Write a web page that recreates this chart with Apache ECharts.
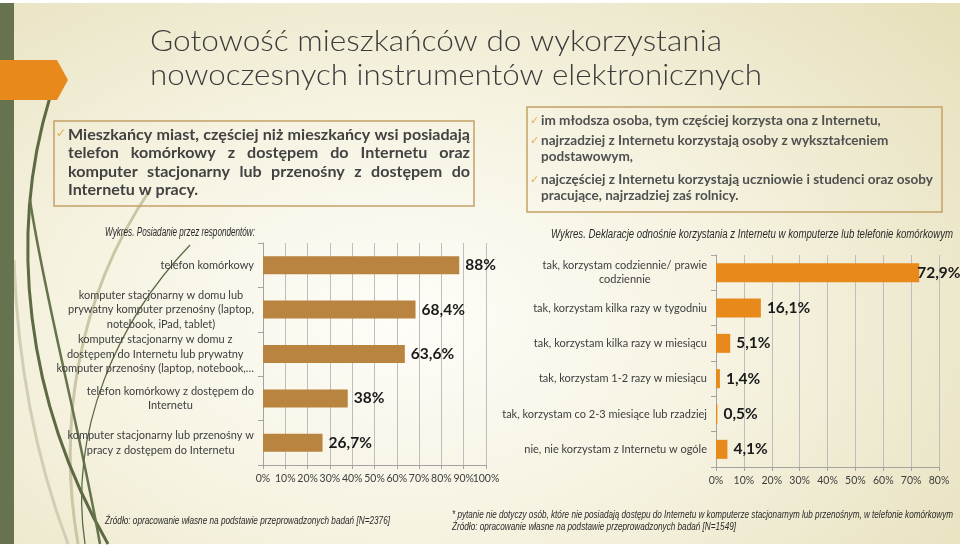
<!DOCTYPE html>
<html>
<head>
<meta charset="utf-8">
<script src="https://cdn.jsdelivr.net/npm/echarts@6/dist/echarts.min.js"></script>
<style>
html,body{margin:0;padding:0;}
#chart{width:960px;height:548px;background:radial-gradient(ellipse 75% 85% at 42% 58%, #fefdf8 0%, #f6f3e2 45%, #e6e0bb 100%);}
</style>
</head>
<body>
<div id="chart"></div>
<script>
// ---- data ----
var leftCategories = [
  "telefon komórkowy",
  "komputer stacjonarny w domu lub\nprywatny komputer przenośny (laptop,\nnotebook, iPad, tablet)",
  "komputer stacjonarny w domu z\ndostępem do Internetu lub prywatny\nkomputer przenośny (laptop, notebook,…",
  "telefon komórkowy z dostępem do\nInternetu",
  "komputer stacjonarny lub przenośny w\npracy z dostępem do Internetu"
];
var leftValues = [88, 68.4, 63.6, 38, 26.7];
var leftTicks = {min: 0, max: 100, interval: 10};

var rightCategories = [
  "tak, korzystam codziennie/ prawie\ncodziennie",
  "tak, korzystam kilka razy w tygodniu",
  "tak, korzystam kilka razy w miesiącu",
  "tak, korzystam 1-2 razy w miesiącu",
  "tak, korzystam co 2-3 miesiące lub rzadziej",
  "nie, nie korzystam z Internetu w ogóle"
];
var rightValues = [72.9, 16.1, 5.1, 1.4, 0.5, 4.1];
var rightTicks = {min: 0, max: 80, interval: 10};

var titleLines = ["Gotowość mieszkańców do wykorzystania", "nowoczesnych instrumentów elektronicznych"];
var box1Lines = [
  "Mieszkańcy miast, częściej niż mieszkańcy wsi posiadają",
  "telefon komórkowy z dostępem do Internetu oraz",
  "komputer stacjonarny lub przenośny z dostępem do",
  "Internetu w pracy."
];
var box2Items = [
  ["im młodsza osoba, tym częściej korzysta ona z Internetu,"],
  ["najrzadziej z Internetu korzystają osoby z wykształceniem", "podstawowym,"],
  ["najczęściej z Internetu korzystają uczniowie i studenci oraz osoby", "pracujące, najrzadziej zaś rolnicy."]
];
var leftCaption = "Wykres. Posiadanie przez respondentów:";
var rightCaption = "Wykres. Deklaracje odnośnie korzystania z Internetu w komputerze lub telefonie komórkowym";
var leftSource = "Źródło: opracowanie własne na podstawie przeprowadzonych badań [N=2376]";
var rightNote = "* pytanie nie dotyczy osób, które nie posiadają dostępu do Internetu w komputerze stacjonarnym lub przenośnym, w telefonie komórkowym";
var rightSource = "Źródło: opracowanie własne na podstawie przeprowadzonych badań [N=1549]";

// ---- styles ----
var FONT = "Lato, 'DejaVu Sans', sans-serif";
var NARROW = "'Liberation Sans', Arial, sans-serif";
var TEXT = '#3d3d3d';

var mctx = document.createElement('canvas').getContext('2d');
function fontStr(o){ return (o.fontStyle||'normal') + ' ' + (o.fontWeight||'normal') + ' ' + o.fontSize + 'px ' + o.fontFamily; }
function measure(t, o){ mctx.font = fontStr(o); return mctx.measureText(t).width; }

function textLine(t, x, y, opts, sx){
  return {type:'text', x:x, y:y, z:10, scaleX: sx || 1,
    style:Object.assign({text:t, fill:TEXT, verticalAlign:'middle', align:'left'}, opts)};
}
function fitText(t, x, y, w, opts){
  return textLine(t, x, y, opts, w / measure(t, opts));
}
function justified(t, x, y, width, opts, sx){
  var words = t.split(' ');
  var ws = words.map(function(w){return measure(w, opts) * sx;});
  var tot = ws.reduce(function(a,b){return a+b;},0);
  var gap = (width - tot)/(words.length-1);
  var els = [], cx = x;
  words.forEach(function(w,i){ els.push(textLine(w, cx, y, opts, sx)); cx += ws[i] + gap; });
  return els;
}

var graphics = [];
// white strips
graphics.push({type:'rect', z:-5, shape:{x:0,y:0,width:960,height:3}, style:{fill:'#ffffff'}});
graphics.push({type:'rect', z:-5, shape:{x:0,y:544,width:960,height:4}, style:{fill:'#ffffff'}});
// decorative curves
var curves = [
  {s:[150,190], c1:[75,300], c2:[58,430], e:[78,544], col:'#c9c7a4', w:3},
  {s:[14,260], c1:[18,380], c2:[40,470], e:[68,544], col:'#d0cfb3', w:3},
  {s:[50,97], c1:[8,235], c2:[25,400], e:[108,544], col:'#5d6a43', w:3},
  {s:[30,200], c1:[45,300], c2:[78,420], e:[100,544], col:'#66734b', w:2.5},
  {s:[190,245], c1:[118,320], c2:[68,430], e:[85,544], col:'#5d6a43', w:1.3}
];
curves.forEach(function(c){
  graphics.push({type:'bezierCurve', z:-3, shape:{x1:c.s[0],y1:c.s[1],cpx1:c.c1[0],cpy1:c.c1[1],cpx2:c.c2[0],cpy2:c.c2[1],x2:c.e[0],y2:c.e[1]}, style:{stroke:c.col, lineWidth:c.w, fill:null}});
});
// left green bar
graphics.push({type:'rect', z:-2, shape:{x:0,y:3,width:14,height:541}, style:{fill:'#67734f'}});
// orange arrow
graphics.push({type:'polygon', z:-1, shape:{points:[[0,60],[57,60],[68,80],[57,100],[0,100]]}, style:{fill:'#e8891c'}});

// title
var tStyle = {fontFamily:FONT, fontWeight:300, fontSize:29, fill:'#3b3b3b'};
graphics.push(fitText(titleLines[0], 150, 42, 572, tStyle));
graphics.push(fitText(titleLines[1], 150, 76, 612, tStyle));

// box 1
graphics.push({type:'rect', z:5, shape:{x:54,y:121,width:420,height:85}, style:{fill:null, stroke:'#c3a167', lineWidth:1.5}});
var b1 = {fontFamily:FONT, fontWeight:'bold', fontSize:15, fill:'#424242'};
var b1sx = 400 / measure(box1Lines[0], b1);
graphics.push(textLine('✓', 56, 134, {fontFamily:'DejaVu Sans', fontSize:12, fill:'#e6ad4f'}));
var b1y = [135, 153.5, 172, 190.5];
box1Lines.forEach(function(l,i){
  if(i < 3){ justified(l, 68, b1y[i], 402, b1, b1sx).forEach(function(e){graphics.push(e);}); }
  else graphics.push(textLine(l, 68, b1y[i], b1, b1sx));
});

// box 2
graphics.push({type:'rect', z:5, shape:{x:527,y:107,width:415,height:105}, style:{fill:null, stroke:'#c3a167', lineWidth:1.5}});
var b2 = {fontFamily:FONT, fontWeight:'bold', fontSize:13, fill:'#505050'};
var b2sx = 392 / measure(box2Items[2][0], b2);
var b2y = [[121],[141,157],[180,196]];
box2Items.forEach(function(item,i){
  graphics.push(textLine('✓', 530, b2y[i][0], {fontFamily:'DejaVu Sans', fontSize:11, fill:'#e6ad4f'}));
  item.forEach(function(l,j){ graphics.push(textLine(l, 541, b2y[i][j], b2, b2sx)); });
});

// captions & sources
var cap = {fontFamily:NARROW, fontStyle:'italic', fontSize:12, fill:'#2a2a2a'};
graphics.push(fitText(leftCaption, 105, 233, 150, cap));
graphics.push(fitText(rightCaption, 551, 235, 402, cap));
var src = {fontFamily:NARROW, fontStyle:'italic', fontSize:11, fill:'#2a2a2a'};
graphics.push(fitText(leftSource, 105, 521, 285, src));
graphics.push(fitText(rightNote, 452, 515, 501, src));
graphics.push(fitText(rightSource, 452, 527, 284, src));

function fmtPct(v){ return String(v).replace('.', ',') + '%'; }
function catFormatter(v){ return v.split('\n').map(function(s){return '{c|'+s+'}';}).join('\n'); }
var catRich = {c:{align:'center', fontFamily:FONT, fontSize:11, color:TEXT, lineHeight:14.5}};

function valueAxis(idx, t, labelFilter){
  return {type:'value', gridIndex:idx, position:'bottom', min:t.min, max:t.max, interval:t.interval,
    axisLine:{show:true, lineStyle:{color:'#a3a3a3'}},
    axisTick:{show:true, length:4, lineStyle:{color:'#a3a3a3'}},
    splitLine:{show:true, lineStyle:{color:'#bdbdbd'}},
    axisLabel:{formatter:function(v){ return (!labelFilter || labelFilter(v)) ? v + '%' : ''; },
      color:TEXT, fontFamily:FONT, fontSize:10.5, margin:8,
      showMaxLabel:true, showMinLabel:true, hideOverlap:false}};
}
// companion axis on the left grid that only carries the max tick label (avoids auto-hiding of crowded end labels)
function maxLabelAxis(idx, t){
  var ax = valueAxis(idx, t, function(v){ return v === t.max; });
  ax.axisLine = {show:false}; ax.axisTick = {show:false}; ax.splitLine = {show:false};
  return ax;
}
function catAxis(idx, cats){
  return {type:'category', gridIndex:idx, data:cats, inverse:true,
    axisLine:{show:true, lineStyle:{color:'#a3a3a3'}},
    axisTick:{show:true, length:5, lineStyle:{color:'#a3a3a3'}},
    axisLabel:{formatter:catFormatter, rich:catRich, margin:9, interval:0}};
}
function barData(vals, max){
  return vals.map(function(v){
    var near = v > max*0.9;
    return {value:v, label:{distance: near ? -2 : 6}};
  });
}
var valLabel = {show:true, position:'right', formatter:function(p){return fmtPct(p.value);}, fontFamily:FONT, fontWeight:'bold', fontSize:15.5, color:'#1a1a1a'};

var chart = echarts.init(document.getElementById('chart'), null, {renderer:'canvas'});
chart.setOption({
  backgroundColor:'transparent',
  animation:false,
  grid:[
    {left:263, top:243, width:223, height:222, outerBoundsMode:'none'},
    {left:716, top:255, width:223, height:212, outerBoundsMode:'none'}
  ],
  xAxis:[
    valueAxis(0, leftTicks, function(v){ return v !== leftTicks.max; }),
    valueAxis(1, rightTicks),
    maxLabelAxis(0, leftTicks)
  ],
  yAxis:[catAxis(0, leftCategories), catAxis(1, rightCategories)],
  series:[
    {type:'bar', xAxisIndex:0, yAxisIndex:0, data:barData(leftValues, leftTicks.max), barWidth:18, itemStyle:{color:'#b8843f'}, label:valLabel},
    {type:'bar', xAxisIndex:1, yAxisIndex:1, data:barData(rightValues, rightTicks.max), barWidth:19, itemStyle:{color:'#e8891c'}, label:valLabel}
  ],
  graphic:{elements:graphics}
});
</script>
</body>
</html>
